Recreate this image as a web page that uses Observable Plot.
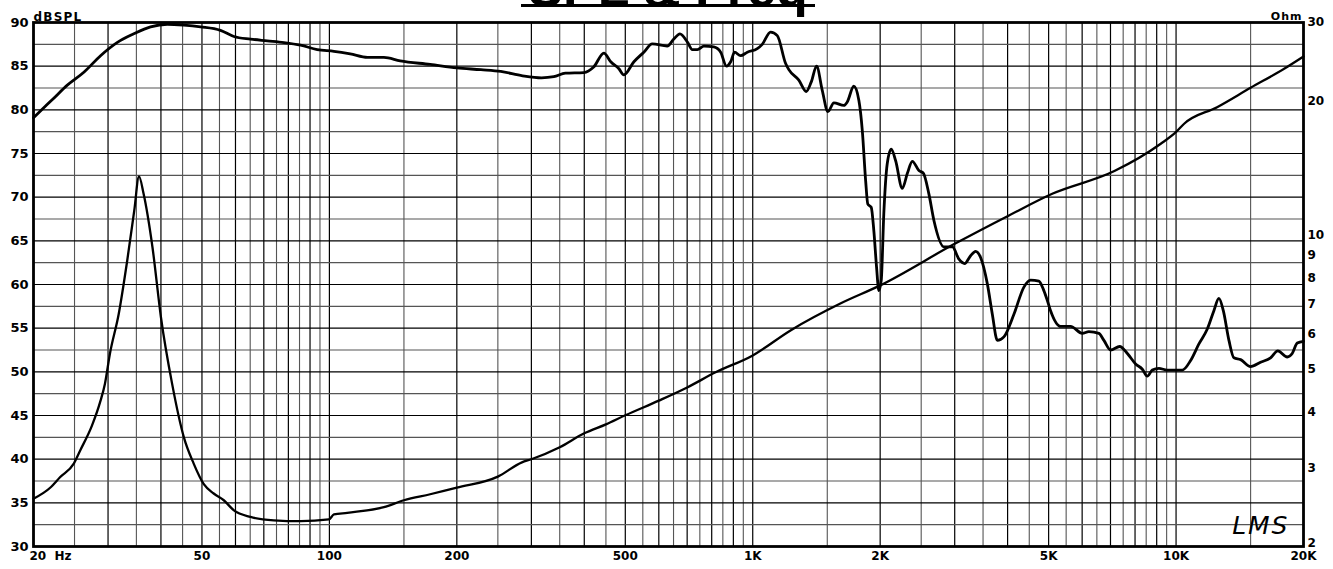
<!DOCTYPE html>
<html><head><meta charset="utf-8">
<script src="https://cdn.jsdelivr.net/npm/d3@7"></script>
<script src="https://cdn.jsdelivr.net/npm/@observablehq/plot@0.6"></script>
<style>
html,body{margin:0;padding:0;background:#fff;overflow:hidden}
#wrap{position:relative;width:1333px;height:569px}
#chart{position:absolute;left:0;top:0}
#title{position:absolute;left:511px;width:314px;top:-42px;height:54px;line-height:54px;font:bold 52px "Liberation Sans",Arial,sans-serif;text-align:center;white-space:nowrap;color:#000;z-index:2}
#uline{position:absolute;left:521px;top:4px;width:294px;height:3px;background:#000;z-index:2}
</style></head><body>
<div id="wrap"><div id="chart"></div><div id="title">SPL &amp; Freq</div><div id="uline"></div></div>
<script>
// SPL curve (dB SPL, left axis)
const splFreq = [20.0, 20.8, 22.3, 24.0, 26.3, 28.8, 31.5, 34.5, 37.8, 41.4,
  45.3, 49.6, 55.3, 59.5, 65.1, 71.3, 78.1, 85.5, 93.6, 102.5,
  112, 123, 134.5, 147, 173, 200, 228, 254, 286, 317,
  339, 361, 399, 421, 445, 462, 483, 496, 524, 553,
  579, 628, 651, 673, 701, 720, 740, 767, 809, 840,
  867, 887, 906, 936, 971, 1025, 1053, 1102, 1143, 1196,
  1217, 1285, 1338, 1375, 1415, 1460, 1505, 1555, 1642, 1672,
  1733, 1781, 1815, 1848, 1870, 1905, 1932, 1961, 1986, 2012,
  2040, 2078, 2124, 2175, 2256, 2318, 2382, 2469, 2529, 2606,
  2680, 2830, 2962, 3070, 3166, 3271, 3361, 3454, 3582, 3681,
  3783, 3920, 4140, 4371, 4532, 4742, 4872, 4963, 5053, 5337,
  5634, 6006, 6223, 6572, 6754, 7005, 7358, 7673, 8026, 8324,
  8551, 8787, 9109, 9535, 10346, 10824, 11324, 11852, 12285, 12624,
  12930, 13332, 13700, 14208, 14997, 15832, 16720, 17396, 18306, 18810,
  19334, 20000];
const splDb = [79.1, 79.9, 81.3, 82.8, 84.3, 86.2, 87.7, 88.7, 89.5, 89.8,
  89.7, 89.5, 89.1, 88.4, 88.1, 87.9, 87.7, 87.4, 86.9, 86.7,
  86.4, 86.0, 86.0, 85.6, 85.2, 84.8, 84.6, 84.4, 83.9, 83.67,
  83.8, 84.2, 84.27, 84.9, 86.5, 85.5, 84.7, 84.0, 85.5, 86.6,
  87.55, 87.3, 88.1, 88.7, 87.75, 86.9, 86.9, 87.3, 87.2, 86.6,
  85.0, 85.5, 86.6, 86.2, 86.6, 87.0, 87.5, 88.9, 88.5, 85.3,
  84.6, 83.4, 82.1, 83.2, 85.0, 82.2, 79.8, 80.8, 80.5, 80.9,
  82.7, 81.1, 77.6, 71.9, 69.2, 68.85, 66.2, 62.0, 59.3, 60.5,
  68.1, 73.8, 75.5, 74.2, 71.0, 72.7, 74.1, 73.05, 72.75, 70.4,
  67.3, 64.3, 64.3, 62.9, 62.4, 63.3, 63.8, 63.1, 60.1, 56.6,
  53.6, 54.0, 56.6, 59.7, 60.5, 60.4, 59.3, 58.2, 57.0, 55.2,
  55.2, 54.4, 54.6, 54.4, 53.6, 52.5, 52.9, 52.1, 50.9, 50.3,
  49.5, 50.2, 50.4, 50.2, 50.2, 51.3, 53.2, 54.9, 57.0, 58.4,
  57.0, 53.6, 51.6, 51.4, 50.6, 51.1, 51.6, 52.4, 51.7, 52.1,
  53.3, 53.5];

// Impedance curve (Ohm, right log axis)
const impFreq = [20.0, 22.0, 23.1, 24.9, 25.8, 27.5, 28.8, 29.5, 30.3, 31.8,
  33.3, 34.6, 35.5, 36.4, 38.2, 40.0, 42.5, 45.3, 47.8, 50.5,
  53.3, 56.3, 59.5, 65.1, 73.9, 85.5, 99.7, 102.5, 110.2, 134.5,
  150, 173, 200, 250, 285, 300, 350, 400, 450, 500,
  600, 700, 817, 1000, 1228, 1615, 2000, 3000, 4030, 5100,
  7150, 9200, 9990, 10450, 12500, 15000, 18000, 20000];
const impOhm = [2.56, 2.72, 2.86, 3.07, 3.29, 3.74, 4.25, 4.64, 5.41, 6.66,
  8.77, 11.36, 13.54, 12.38, 9.39, 6.54, 4.64, 3.52, 3.07, 2.76,
  2.63, 2.54, 2.41, 2.33, 2.29, 2.28, 2.30, 2.36, 2.38, 2.45,
  2.54, 2.62, 2.71, 2.87, 3.09, 3.14, 3.34, 3.59, 3.76, 3.94,
  4.25, 4.55, 4.92, 5.37, 6.11, 7.03, 7.71, 9.56, 11.07, 12.38,
  13.92, 16.03, 17.02, 17.78, 19.37, 21.41, 23.62, 25.17];

// Tick labels
const xTickValues = [20, 50, 100, 200, 500, 1000, 2000, 5000, 10000, 20000];
const xTickLabels = ["20\u00a0\u00a0Hz", "50", "100", "200", "500", "1K", "2K", "5K", "10K", "20K"];
const dbTicks = [30, 35, 40, 45, 50, 55, 60, 65, 70, 75, 80, 85, 90];
const ohmTicks = [2, 3, 4, 5, 6, 7, 8, 9, 10, 20, 30];

// Map an impedance (2..30 Ohm, log) onto the dB frame (30..90)
const toDb = o => 30 + 60 * Math.log10(o / 2) / Math.log10(15);

const spl = splFreq.map((f, i) => ({f, v: splDb[i]}));
const imp = impFreq.map((f, i) => ({f, v: toDb(impOhm[i])}));

// Grid: half-decade-unit steps inside each decade
const gridXMajor = [], gridXMinor = [];
for (const [a, b, s] of [[20, 100, 5], [100, 1000, 50], [1000, 10000, 500], [10000, 20000, 5000]]) {
  for (let v = a; v <= b + 1e-9; v += s) {
    if (v === a && a !== 20) continue;
    (Math.round(v / s) % 2 === 0 ? gridXMajor : gridXMinor).push(v);
  }
}
const gridYMajor = [], gridYMinor = [];
for (let v = 30; v <= 90; v += 2.5) (v % 5 === 0 ? gridYMajor : gridYMinor).push(v);

const chart = Plot.plot({
  width: 1333, height: 569,
  marginLeft: 33, marginRight: 30, marginTop: 22, marginBottom: 23,
  x: {type: "log", domain: [20, 20000], axis: null},
  y: {domain: [30, 90], axis: null},
  style: {fontFamily: "'DejaVu Sans', Verdana, sans-serif", fontWeight: "bold", fontSize: "12px", background: "#fff", color: "#000"},
  marks: [
    Plot.ruleX(gridXMinor, {stroke: "#555", strokeWidth: 1.1}),
    Plot.ruleX(gridXMajor, {stroke: "#000", strokeWidth: 1.2}),
    Plot.ruleY(gridYMinor, {stroke: "#555", strokeWidth: 1.1}),
    Plot.ruleY(gridYMajor, {stroke: "#000", strokeWidth: 1.2}),
    Plot.line(imp, {x: "f", y: "v", stroke: "#000", strokeWidth: 2.3, curve: "monotone-x"}),
    Plot.line(spl, {x: "f", y: "v", stroke: "#000", strokeWidth: 2.8, curve: "monotone-x"}),
    Plot.frame({stroke: "#000", strokeWidth: 2.8}),
    Plot.text(dbTicks, {y: d => d, text: d => String(d), frameAnchor: "left", dx: -5, textAnchor: "end", fontSize: 13}),
    Plot.text(ohmTicks.filter(d => d > 2), {y: d => toDb(d), text: d => String(d), frameAnchor: "right", dx: 4, textAnchor: "start", fontSize: 12}),
    Plot.text(ohmTicks.filter(d => d === 2), {y: d => toDb(d), text: d => String(d), frameAnchor: "right", dx: 4, dy: -3, textAnchor: "start", fontSize: 12}),
    Plot.text([xTickValues[0]], {x: d => d, text: () => xTickLabels[0], frameAnchor: "bottom", dy: 13, dx: -4, textAnchor: "start", fontSize: 12}),
    Plot.text(xTickValues.slice(1), {x: d => d, text: (d, i) => xTickLabels[i + 1], frameAnchor: "bottom", dy: 13, fontSize: 12}),
    Plot.text(["dBSPL"], {text: d => d, frameAnchor: "top-left", dy: -10, textAnchor: "start", fontSize: 12}),
    Plot.text(["Ohm"], {text: d => d, frameAnchor: "top-right", dy: -10, dx: -1, textAnchor: "end", fontSize: 11}),
    Plot.text(["LMS"], {text: d => d, frameAnchor: "bottom-right", dx: -14, dy: -21, textAnchor: "end", lineAnchor: "middle", fontSize: 25, fontStyle: "italic", fontWeight: "normal"})
  ]
});
document.getElementById("chart").appendChild(chart);
const texts = d3.select(chart).selectAll("text");
texts.filter(function() { return this.textContent === "dBSPL"; }).style("letter-spacing", "1.2px");
texts.filter(function() { return this.textContent === "Ohm"; }).style("letter-spacing", "1px");
texts.filter(function() { return this.textContent === "LMS"; }).style("letter-spacing", "2px").style("font-weight", "300");
</script>
</body></html>
